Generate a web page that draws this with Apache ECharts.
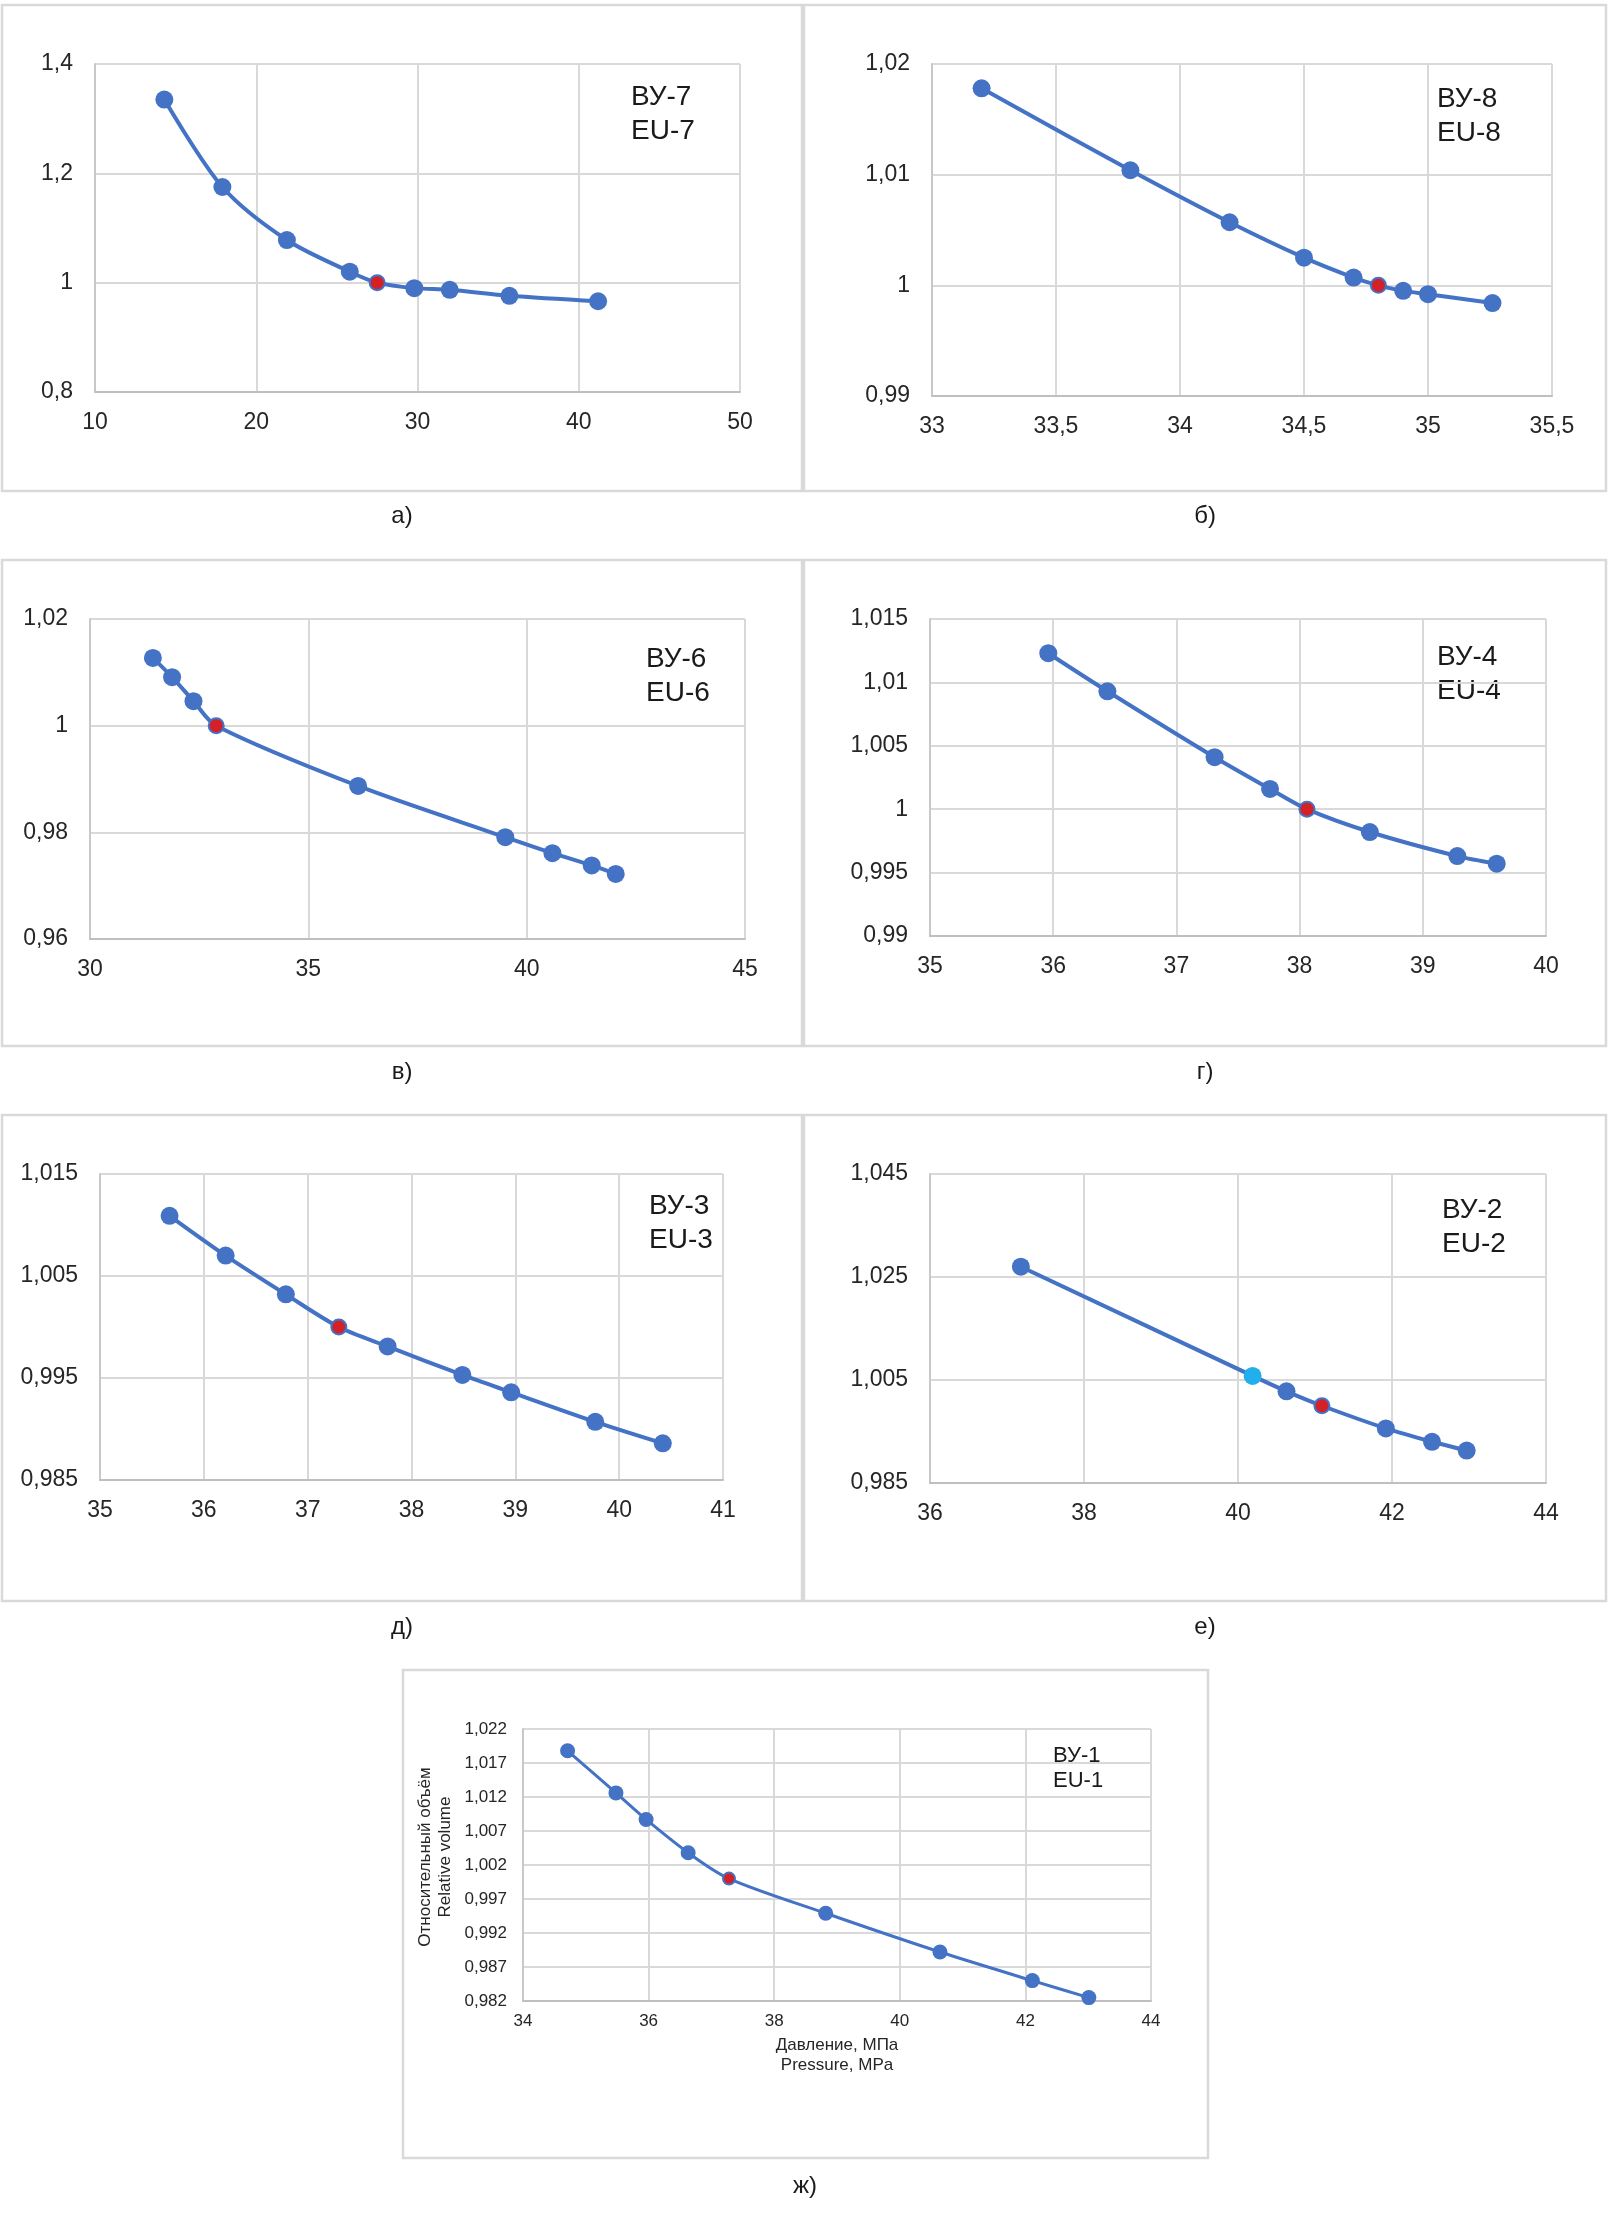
<!DOCTYPE html>
<html>
<head>
<meta charset="utf-8">
<script src="https://cdn.jsdelivr.net/npm/echarts@6/dist/echarts.min.js"></script>
<style>
  html, body { margin: 0; padding: 0; background: #fff; }
  #main { width: 1608px; height: 2220px; }
</style>
</head>
<body>
<div id="main"></div>
<script>
// pressure, MPa / relative volume for every well (ВУ-n)
const p7 = [14.3, 17.9, 21.9, 25.8, 27.5, 29.8, 32.0, 35.7, 41.2];
const v7 = [1.335, 1.175, 1.078, 1.020, 1.000, 0.990, 0.987, 0.976, 0.966];

const p8 = [33.2, 33.8, 34.2, 34.5, 34.7, 34.8, 34.9, 35.0, 35.26];
const v8 = [1.0178, 1.0104, 1.0057, 1.0025, 1.0007, 1.0000, 0.9995, 0.9992, 0.9984];

const p6 = [31.44, 31.88, 32.37, 32.89, 36.14, 39.51, 40.59, 41.49, 42.04];
const v6 = [1.0127, 1.0091, 1.0046, 1.0000, 0.9887, 0.9791, 0.9761, 0.9738, 0.9722];

const p4 = [35.96, 36.44, 37.31, 37.76, 38.06, 38.57, 39.28, 39.60];
const v4 = [1.0123, 1.0093, 1.0041, 1.0016, 1.0000, 0.9982, 0.9963, 0.9957];

const p3 = [35.67, 36.21, 36.79, 37.30, 37.77, 38.49, 38.96, 39.77, 40.42];
const v3 = [1.0109, 1.0070, 1.0032, 1.0000, 0.9981, 0.9953, 0.9936, 0.9907, 0.9886];

const p2 = [37.18, 40.19, 40.63, 41.09, 41.92, 42.52, 42.97];
const v2 = [1.0270, 1.0058, 1.0028, 1.0000, 0.9956, 0.9930, 0.9913];

const p1 = [34.71, 35.48, 35.96, 36.63, 37.28, 38.82, 40.64, 42.11, 43.01];
const v1 = [1.0188, 1.0126, 1.0087, 1.0038, 1.0000, 0.9949, 0.9892, 0.9850, 0.9825];

// index of the reference (red) point and the light-blue point of ВУ-2
const refIdx = [4, 5, 3, 4, 3, 3, 4];
const cyanIdx2 = 1;

// axis ranges: [min, max, step]
const xAx = [[10, 50, 10], [33, 35.5, 0.5], [30, 45, 5], [35, 40, 1], [35, 41, 1], [36, 44, 2], [34, 44, 2]];
const yAx = [[0.8, 1.4, 0.2], [0.99, 1.02, 0.01], [0.96, 1.02, 0.02], [0.99, 1.015, 0.005],
             [0.985, 1.015, 0.01], [0.985, 1.045, 0.02], [0.982, 1.022, 0.005]];

const tags = ['ВУ-7\nEU-7', 'ВУ-8\nEU-8', 'ВУ-6\nEU-6', 'ВУ-4\nEU-4', 'ВУ-3\nEU-3', 'ВУ-2\nEU-2', 'ВУ-1\nEU-1'];
const captions = ['а)', 'б)', 'в)', 'г)', 'д)', 'е)', 'ж)'];
const pArr = [p7, p8, p6, p4, p3, p2, p1];
const vArr = [v7, v8, v6, v4, v3, v2, v1];

// layout
const grids = [
  { left: 95, top: 64, width: 645, height: 328 },
  { left: 932, top: 64, width: 620, height: 332 },
  { left: 90, top: 619, width: 655, height: 320 },
  { left: 930, top: 619, width: 616, height: 317 },
  { left: 100, top: 1174, width: 623, height: 306 },
  { left: 930, top: 1174, width: 616, height: 309 },
  { left: 523, top: 1729, width: 628, height: 272 }
];
const frames = [
  [2, 5, 800, 486], [804, 5, 802, 486],
  [2, 560, 800, 486], [804, 560, 802, 486],
  [2, 1115, 800, 486], [804, 1115, 802, 486],
  [403, 1670, 805, 488]
];
const tagPos = [[631, 80], [1437, 82], [646, 642], [1437, 640], [649, 1189], [1442, 1193], [1053, 1743]];
const capPos = [[402, 516], [1205, 516], [402, 1072], [1205, 1072], [402, 1627], [1205, 1627], [805, 2186]];

const FONT = '"Liberation Sans", Arial, sans-serif';
const BLUE = '#4472C4';
const RED = '#D42027';
const CYAN = '#22B0EC';

const fmt = v => String(+v.toFixed(4)).replace('.', ',');

const chart = echarts.init(document.getElementById('main'));

const xAxis = [], yAxis = [], series = [], graphic = [];

grids.forEach((g, i) => {
  const small = i === 6;
  const fs = small ? 17 : 23;
  xAxis.push({
    type: 'value', gridIndex: i,
    min: xAx[i][0], max: xAx[i][1], interval: xAx[i][2],
    axisLine: { show: true, lineStyle: { color: '#bfbfbf', width: 2 } },
    axisTick: { show: false },
    axisLabel: { color: '#262626', fontSize: fs, fontFamily: FONT, margin: small ? 12 : 19, formatter: fmt },
    splitLine: { show: true, lineStyle: { color: '#d9d9d9', width: 2 } },
    name: small ? 'Давление, МПа\nPressure, MPa' : '',
    nameLocation: 'middle', nameGap: 34,
    nameTextStyle: { color: '#262626', fontSize: 17, fontFamily: FONT, lineHeight: 20 }
  });
  yAxis.push({
    type: 'value', gridIndex: i,
    min: yAx[i][0], max: yAx[i][1], interval: yAx[i][2],
    axisLine: { show: true, lineStyle: { color: '#c8c8c8', width: 2 } },
    axisTick: { show: false },
    axisLabel: { color: '#262626', fontSize: fs, fontFamily: FONT, margin: small ? 16 : 22, formatter: fmt },
    splitLine: { show: true, lineStyle: { color: '#d9d9d9', width: 2 } },
    name: small ? 'Относительный объём\nRelative volume' : '',
    nameLocation: 'middle', nameGap: 68, nameRotate: 90,
    nameTextStyle: { color: '#262626', fontSize: 17, fontFamily: FONT, lineHeight: 20, padding: [0, 0, 0, 16] }
  });

  const size = small ? 15 : 18;
  const data = pArr[i].map((x, k) => {
    const item = { value: [x, vArr[i][k]] };
    if (k === refIdx[i]) {
      item.symbolSize = small ? 12 : 15;
      item.itemStyle = { color: RED, borderColor: BLUE, borderWidth: 2 };
    } else if (i === 5 && k === cyanIdx2) {
      item.itemStyle = { color: CYAN };
    }
    return item;
  });
  series.push({
    type: 'line', xAxisIndex: i, yAxisIndex: i,
    data: data, smooth: 0.3,
    symbol: 'circle', symbolSize: size,
    lineStyle: { color: BLUE, width: small ? 3 : 4 },
    itemStyle: { color: BLUE },
    animation: false
  });

  const f = frames[i];
  graphic.push({
    type: 'rect', shape: { x: f[0], y: f[1], width: f[2], height: f[3] },
    style: { fill: null, stroke: '#d9d9d9', lineWidth: 2.5 }, z: -1
  });
  graphic.push({
    type: 'text', x: tagPos[i][0], y: tagPos[i][1],
    style: {
      text: tags[i], fill: '#1a1a1a', font: (small ? 22 : 28) + 'px ' + FONT,
      lineHeight: small ? 25 : 34, textVerticalAlign: 'top'
    }
  });
  graphic.push({
    type: 'text', x: capPos[i][0], y: capPos[i][1],
    style: {
      text: captions[i], fill: '#1a1a1a', font: '24px ' + FONT,
      textAlign: 'center', textVerticalAlign: 'middle'
    }
  });
});

chart.setOption({
  backgroundColor: '#fff',
  animation: false,
  grid: grids,
  xAxis: xAxis,
  yAxis: yAxis,
  series: series,
  graphic: graphic
});
</script>
</body>
</html>
